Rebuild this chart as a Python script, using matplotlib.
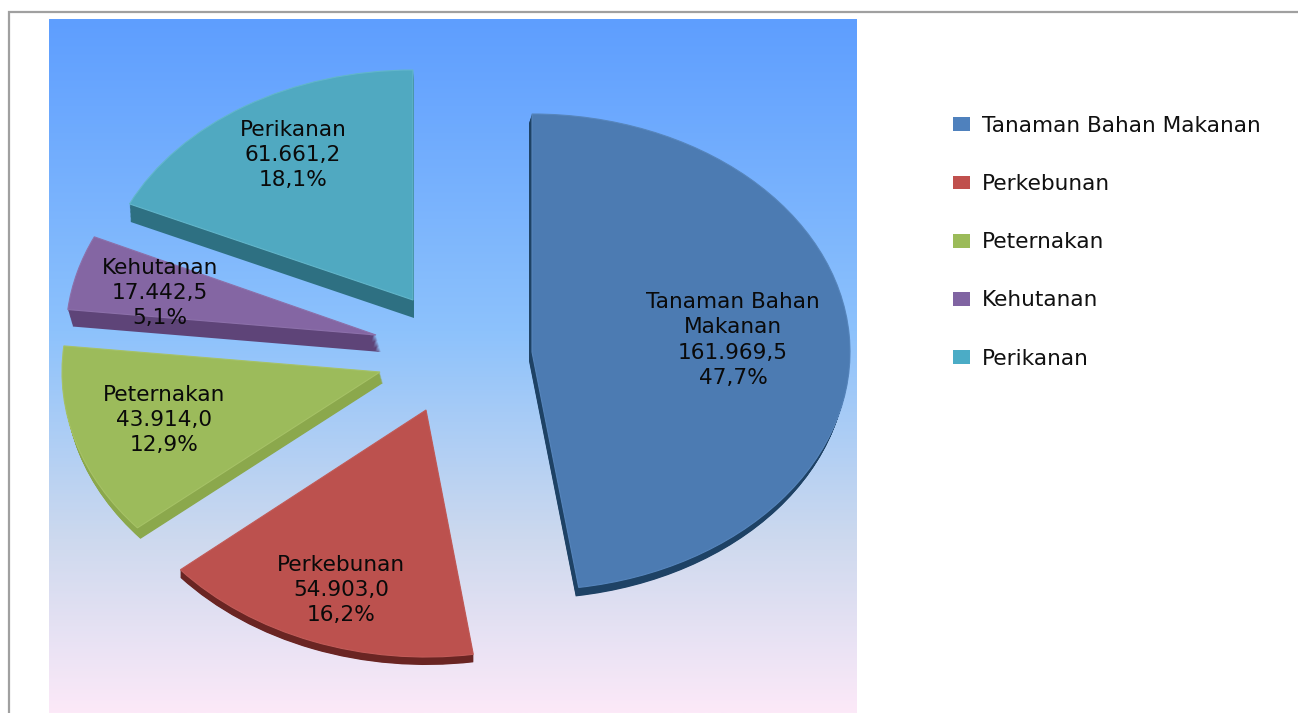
import numpy as np
import matplotlib
matplotlib.use("Agg")
import matplotlib.pyplot as plt
from matplotlib.colors import LinearSegmentedColormap
from matplotlib.patches import Patch
from matplotlib.transforms import Affine2D

categories = ["Tanaman Bahan Makanan", "Perkebunan", "Peternakan", "Kehutanan", "Perikanan"]
values = [161969.5, 54903.0, 43914.0, 17442.5, 61661.2]
percents = [47.7, 16.2, 12.9, 5.1, 18.1]

W, H = 1298, 713
FS = 15.6

# warna
legend_colors = ["#4F81BD", "#C0504D", "#9BBB59", "#8064A2", "#4BACC6"]
top_colors = ["#4C7BB2", "#BC514E", "#9CBB5B", "#8466A3", "#50A9C1"]
edge_colors = ["#5685BC", "#C25B58", "#A6C266", "#8C70AA", "#62B6CB"]
wall_colors = ["#1E4265", "#6A2523", "#8BA84C", "#5E4478", "#2E7082"]

# posisi irisan dalam piksel: pusat, jari-jari x/y, tebal sisi
centers = [(532, 352), (426, 410), (380, 372), (376, 335), (413, 300)]
radii = [(318, 238), (322, 247), (318, 241), (310, 235), (312, 230)]
walls = [(-3, 9), (0, 8), (3, 11), (5, 17), (1, 18)]
label_pos = [(733, 340), (341, 590), (164, 420), (160, 293), (293, 155)]


def fmt(v):
    return f"{v:,.1f}".replace(",", "#").replace(".", ",").replace("#", ".")


def draw_pie(ax, dx, dy, colors, edges=None, lw=0):
    wedges, _ = ax.pie(values, colors=colors, startangle=90, counterclock=False)
    for i, w in enumerate(wedges):
        (cx, cy), (rx, ry) = centers[i], radii[i]
        w.set_transform(Affine2D().scale(rx, -ry).translate(cx + dx[i], cy + dy[i]) + ax.transData)
        if edges is not None:
            w.set_edgecolor(edges[i])
            w.set_linewidth(lw)
    return wedges


fig = plt.figure(figsize=(W / 100, H / 100), dpi=100, facecolor="white")
ax = fig.add_axes([0, 0, 1, 1])

grad = LinearSegmentedColormap.from_list(
    "bg", [(0, "#5E9EFF"), (0.45, "#8DC2FC"), (0.75, "#CDD9EE"), (1, "#FCE9F8")]
)
ax.imshow(np.linspace(0, 1, 256).reshape(-1, 1), cmap=grad, extent=(49, 857, 713, 19), aspect="auto", zorder=0)

ax.plot([8.5, 8.5, W], [H, 12, 12], color="#A0A0A0", lw=1.6, solid_joinstyle="miter", zorder=1)

steps = 14
for k in range(steps, 0, -1):
    f = k / steps
    draw_pie(ax, [w[0] * f for w in walls], [w[1] * f for w in walls], wall_colors)
draw_pie(ax, [0] * 5, [0] * 5, top_colors, edge_colors, 0.8)

for i, c in enumerate(categories):
    name = c.replace("Bahan ", "Bahan\n")
    pct = f"{percents[i]:.1f}".replace(".", ",")
    ax.text(*label_pos[i], f"{name}\n{fmt(values[i])}\n{pct}%",
            ha="center", va="center", fontsize=FS, color="#0A0A0A", linespacing=1.33, zorder=10)

handles = [Patch(facecolor=legend_colors[i], edgecolor="none", label=c) for i, c in enumerate(categories)]
leg = ax.legend(handles=handles, loc="upper left", bbox_to_anchor=(953 / W, 1 - 116 / H), borderaxespad=0,
                borderpad=0, frameon=False, fontsize=FS, handlelength=0.78, handleheight=0.6,
                handletextpad=0.55, labelspacing=1.76)
for t in leg.get_texts():
    t.set_color("#111111")

ax.set_aspect("auto")
ax.set_xlim(0, W)
ax.set_ylim(H, 0)
ax.set_xticks([])
ax.set_yticks([])
ax.set_frame_on(False)

fig.savefig("out.png", dpi=100)
